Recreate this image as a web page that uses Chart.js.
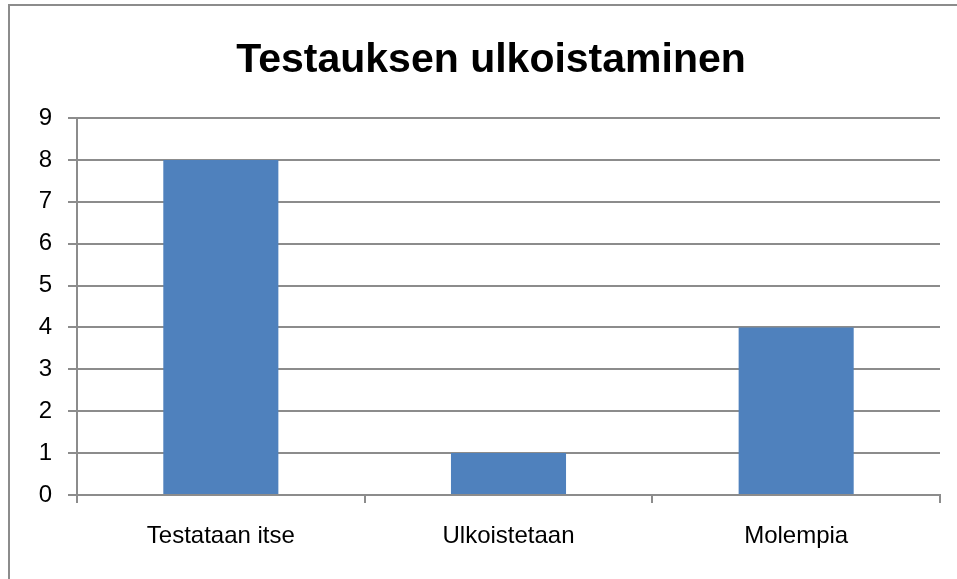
<!DOCTYPE html>
<html>
<head>
<meta charset="utf-8">
<script src="https://cdn.jsdelivr.net/npm/chart.js@4"></script>
<style>
  html, body { margin: 0; padding: 0; background: #fff; }
  #wrap { position: relative; width: 957px; height: 579px; overflow: hidden; }
  #frame { position: absolute; left: 8px; top: 4px; width: 1200px; height: 900px; border: 2px solid #8c8c8c; }
  canvas { position: absolute; left: 0; top: 0; }
</style>
</head>
<body>
<div id="wrap">
  <div id="frame"></div>
  <canvas id="chart" width="957" height="579"></canvas>
</div>
<script>
const categories = ['Testataan itse', 'Ulkoistetaan', 'Molempia'];
const values = [8, 1, 4];
const yTicks = [0, 1, 2, 3, 4, 5, 6, 7, 8, 9];
const chartTitle = 'Testauksen ulkoistaminen';

document.addEventListener('DOMContentLoaded', function () {
    const gridColor = '#8c8c8c';
    const labelFont = { family: "'Liberation Sans', sans-serif", size: 24 };
    const ctx = document.getElementById('chart').getContext('2d');

    // the original title sits a little right of the canvas centre, so draw it by hand
    const titlePlugin = {
        id: 'titleText',
        afterDraw(chart) {
            const c = chart.ctx;
            c.save();
            c.font = "bold 41px 'Liberation Sans', sans-serif";
            c.fillStyle = '#000';
            c.textAlign = 'center';
            c.textBaseline = 'alphabetic';
            c.fillText(chartTitle, 491, 72);
            c.restore();
        }
    };

    new Chart(ctx, {
        type: 'bar',
        data: {
            labels: categories,
            datasets: [{
                label: chartTitle,
                data: values,
                backgroundColor: '#4f81bd',
                barPercentage: 0.4,
                categoryPercentage: 1
            }]
        },
        options: {
            responsive: false,
            animation: false,
            layout: { padding: { top: 118, right: 17, bottom: 0, left: 0 } },
            plugins: {
                legend: { display: false },
                tooltip: { enabled: false },
                title: { display: false }
            },
            scales: {
                x: {
                    grid: { offset: true, drawOnChartArea: false, drawTicks: true, tickLength: 8, color: gridColor, lineWidth: 2 },
                    border: { display: true, color: gridColor, width: 2 },
                    ticks: { color: '#000', padding: 19, font: labelFont },
                    afterFit: function (scale) { scale.height = 84; }
                },
                y: {
                    min: 0,
                    max: 9,
                    afterBuildTicks: function (scale) { scale.ticks = yTicks.map(v => ({ value: v })); },
                    grid: { color: gridColor, lineWidth: 2, tickLength: 9 },
                    border: { display: true, color: gridColor, width: 2 },
                    ticks: { color: '#000', padding: 16, font: labelFont },
                    afterFit: function (scale) { scale.width = 77; }
                }
            }
        },
        plugins: [titlePlugin]
    });
});
</script>
</body>
</html>
